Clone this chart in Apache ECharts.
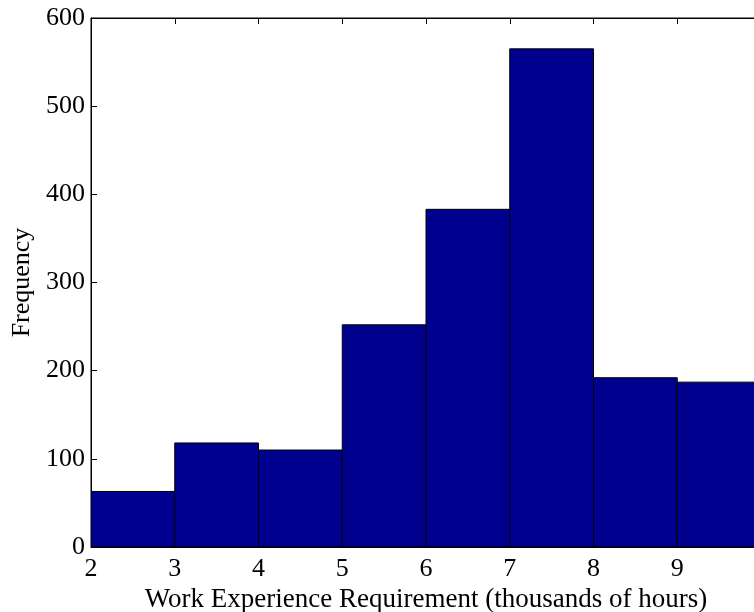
<!DOCTYPE html>
<html>
<head>
<meta charset="utf-8">
<script src="https://cdn.jsdelivr.net/npm/echarts@6/dist/echarts.min.js"></script>
<style>html,body{margin:0;padding:0;background:#fff}#c{width:754px;height:612px}</style>
</head>
<body>
<div id="c"></div>
<script>
const binStarts = [2, 3, 4, 5, 6, 7, 8, 9];
const binEnds = [3, 4, 5, 6, 7, 8, 9, 10];
const counts = [63, 118, 110, 252, 383, 565, 192, 187];
const xTicks = [2, 3, 4, 5, 6, 7, 8, 9, 10];
const yTicks = [0, 100, 200, 300, 400, 500, 600];
const xTitle = 'Work Experience Requirement (thousands of hours)';
const yTitle = 'Frequency';

const FONT = 'Liberation Serif';
const data = binStarts.map((s, i) => [s, binEnds[i], counts[i]]);

const chart = echarts.init(document.getElementById('c'), null, {renderer: 'canvas'});
const tickStyle = {show: true, inside: true, length: 6, lineStyle: {color: '#000', width: 1}};
chart.setOption({
  animation: false,
  grid: {left: 91, right: -7, top: 18, bottom: 65, outerBoundsMode: 'none', containLabel: false,
    show: true, borderColor: '#000', borderWidth: 1, backgroundColor: 'transparent'},
  xAxis: [{
    type: 'value', min: xTicks[0], max: xTicks[xTicks.length - 1], interval: 1, position: 'bottom',
    axisLine: {show: true, onZero: false, lineStyle: {color: '#000', width: 1}},
    axisTick: tickStyle,
    splitLine: {show: false},
    axisLabel: {color: '#000', fontFamily: FONT, fontSize: 26, margin: 9,
      formatter: v => (v >= 10 ? '' : String(v))},
    name: xTitle, nameLocation: 'middle', nameGap: 28,
    nameTextStyle: {color: '#000', fontFamily: FONT, fontSize: 27}
  }, {
    type: 'value', min: xTicks[0], max: xTicks[xTicks.length - 1], interval: 1, position: 'top',
    axisLine: {show: true, onZero: false, lineStyle: {color: '#000', width: 1}},
    axisTick: tickStyle, splitLine: {show: false}, axisLabel: {show: false}
  }],
  yAxis: [{
    type: 'value', min: yTicks[0], max: yTicks[yTicks.length - 1], interval: 100, position: 'left',
    axisLine: {show: true, onZero: false, lineStyle: {color: '#000', width: 1}},
    axisTick: tickStyle,
    splitLine: {show: false},
    axisLabel: {color: '#000', fontFamily: FONT, fontSize: 26, margin: 6},
    name: yTitle, nameLocation: 'middle', nameGap: 56,
    nameTextStyle: {color: '#000', fontFamily: FONT, fontSize: 26}
  }, {
    type: 'value', min: yTicks[0], max: yTicks[yTicks.length - 1], interval: 100, position: 'right',
    axisLine: {show: true, onZero: false, lineStyle: {color: '#000', width: 1}},
    axisTick: tickStyle, splitLine: {show: false}, axisLabel: {show: false}
  }],
  series: [{
    type: 'custom',
    xAxisIndex: 0, yAxisIndex: 0,
    clip: true,
    data: data,
    encode: {x: [0, 1], y: 2},
    renderItem: function (params, api) {
      const p0 = api.coord([api.value(0), 0]);
      const p1 = api.coord([api.value(1), api.value(2)]);
      return {
        type: 'rect',
        shape: {x: p0[0], y: p1[1], width: p1[0] - p0[0], height: p0[1] - p1[1]},
        style: {fill: '#00008F', stroke: '#000', lineWidth: 1}
      };
    }
  }]
});
</script>
</body>
</html>
